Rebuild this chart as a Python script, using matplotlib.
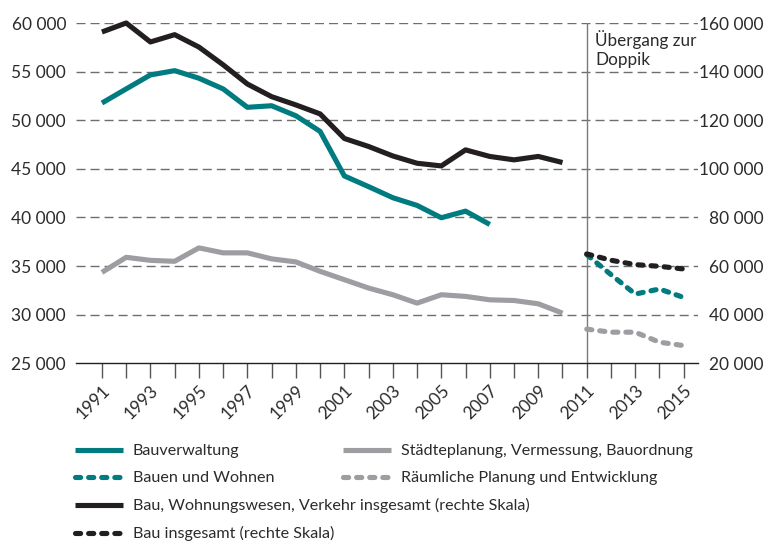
import matplotlib
matplotlib.use("Agg")
import matplotlib.pyplot as plt
from matplotlib.lines import Line2D
import matplotlib.transforms as mtransforms

plt.rcParams['font.family'] = ['Lato', 'DejaVu Sans']

# ---- data ----
years_a = list(range(1991, 2011))
bau_wohn_verkehr = [156300, 160000, 152200, 155200, 150100, 142800, 134900, 129700, 126300, 122600,
                    112500, 109200, 105300, 102300, 101200, 107800, 105100, 103700, 105100, 102600]
years_b = list(range(1991, 2008))
bauverwaltung = [51770, 53220, 54660, 55100, 54320, 53220, 51330, 51490, 50460, 48850,
                 44270, 43170, 42030, 41240, 39970, 40650, 39280]
staedteplanung = [34350, 35900, 35590, 35490, 36870, 36360, 36360, 35740, 35430, 34460,
                  33600, 32740, 32050, 31190, 32050, 31880, 31530, 31460, 31120, 30160]
years_c = list(range(2011, 2016))
bau_insgesamt = [65000, 62400, 60600, 59900, 58800]
bauen_wohnen = [36180, 34120, 32120, 32640, 31770]
raeumliche = [28510, 28200, 28200, 27170, 26820]

left_ticks = [25000, 30000, 35000, 40000, 45000, 50000, 55000, 60000]
right_ticks = [20000, 40000, 60000, 80000, 100000, 120000, 140000, 160000]
label_years = list(range(1991, 2016, 2))

TEAL = '#007C80'
GRAY = '#9D9EA2'
BLACK = '#231F20'
TXT = '#2b2b2b'

W, H = 781, 542
fig = plt.figure(figsize=(W / 100, H / 100), dpi=100)
ax = fig.add_axes([76 / W, 1 - 363.3 / H, 622 / W, 340.3 / H])
ax2 = ax.twinx()

def fmt(v):
    return f"{v:,}".replace(",", " ")

lw = 3.7
dash = (0, (1.0, 1.55))

ax.plot(years_b, bauverwaltung, color=TEAL, lw=lw, solid_capstyle='butt', solid_joinstyle='round', clip_on=False, zorder=3)
ax.plot(years_a, staedteplanung, color=GRAY, lw=lw, solid_capstyle='butt', solid_joinstyle='round', clip_on=False, zorder=3)
ax.plot(years_c, bauen_wohnen, color=TEAL, lw=lw, ls=dash, dash_capstyle='round', clip_on=False, zorder=3)
ax.plot(years_c, raeumliche, color=GRAY, lw=lw, ls=dash, dash_capstyle='round', clip_on=False, zorder=3)
ax2.plot(years_a, bau_wohn_verkehr, color=BLACK, lw=lw, solid_capstyle='butt', solid_joinstyle='round', clip_on=False, zorder=3)
ax2.plot(years_c, bau_insgesamt, color=BLACK, lw=lw, ls=dash, dash_capstyle='round', clip_on=False, zorder=3)

ax.set_xlim(1989.93, 2015.59)
ax.set_ylim(25000, 60000)
ax2.set_ylim(20000, 160000)

# gridlines
for v in left_ticks[1:]:
    ax.axhline(v, color='#6d6e70', lw=1.0, ls=(0, (6.5, 3.6)), zorder=1)
ax.axvline(2011, color='#7a7a7a', lw=1.0, zorder=2)

for a in (ax, ax2):
    for s in ('top', 'left', 'right'):
        a.spines[s].set_visible(False)
ax.spines['bottom'].set_color(BLACK)
ax.spines['bottom'].set_linewidth(1.0)
ax2.spines['bottom'].set_visible(False)

ax.set_yticks(left_ticks)
ax.set_yticklabels([fmt(v) for v in left_ticks])
ax.tick_params(axis='y', length=0, pad=7.2, labelsize=12.5, labelcolor=TXT)

ax2.set_yticks(right_ticks)
ax2.set_yticklabels([fmt(v) for v in right_ticks])
ax2.tick_params(axis='y', length=0, pad=47.5, labelsize=12.5, labelcolor=TXT)
for t in ax2.get_yticklabels():
    t.set_horizontalalignment('right')

ax.set_xticks(list(range(1991, 2016)))
ax.set_xticklabels([str(y) if y in label_years else '' for y in range(1991, 2016)])
ax.tick_params(axis='x', direction='out', length=10.8, width=1.0, color='#555555', pad=5,
               labelsize=12.5, labelcolor=TXT)
offset = mtransforms.ScaledTranslation(4 / 72, -2 / 72, fig.dpi_scale_trans)
for t in ax.get_xticklabels():
    t.set_rotation(45)
    t.set_ha('right')
    t.set_va('center')
    t.set_rotation_mode('anchor')
    t.set_transform(t.get_transform() + offset)

ax.text(2011.35, 59300, "Übergang zur\nDoppik", fontsize=12.3, color=TXT, va='top', ha='left',
        linespacing=1.25, zorder=4)

# legends
def h(color, ls='-'):
    if ls == '-':
        return Line2D([], [], color=color, lw=lw, solid_capstyle='butt')
    return Line2D([], [], color=color, lw=lw, ls=dash, dash_capstyle='round')

hA = [h(TEAL), h(TEAL, '--'), h(BLACK), h(BLACK, '--')]
lA = ["Bauverwaltung", "Bauen und Wohnen",
      "Bau, Wohnungswesen, Verkehr insgesamt (rechte Skala)", "Bau insgesamt (rechte Skala)"]
hB = [h(GRAY), h(GRAY, '--')]
lB = ["Städteplanung, Vermessung, Bauordnung", "Räumliche Planung und Entwicklung"]

common = dict(loc='upper left', frameon=False, borderpad=0, borderaxespad=0,
              handlelength=2.98, handletextpad=0.62, labelspacing=0.8, fontsize=11.6,
              labelcolor=TXT)
legA = fig.legend(hA, lA, bbox_to_anchor=(75 / W, 1 - 444 / H), **common)
legB = fig.legend(hB, lB, bbox_to_anchor=(343 / W, 1 - 444 / H), **common)

fig.savefig("out.png", dpi=100)
